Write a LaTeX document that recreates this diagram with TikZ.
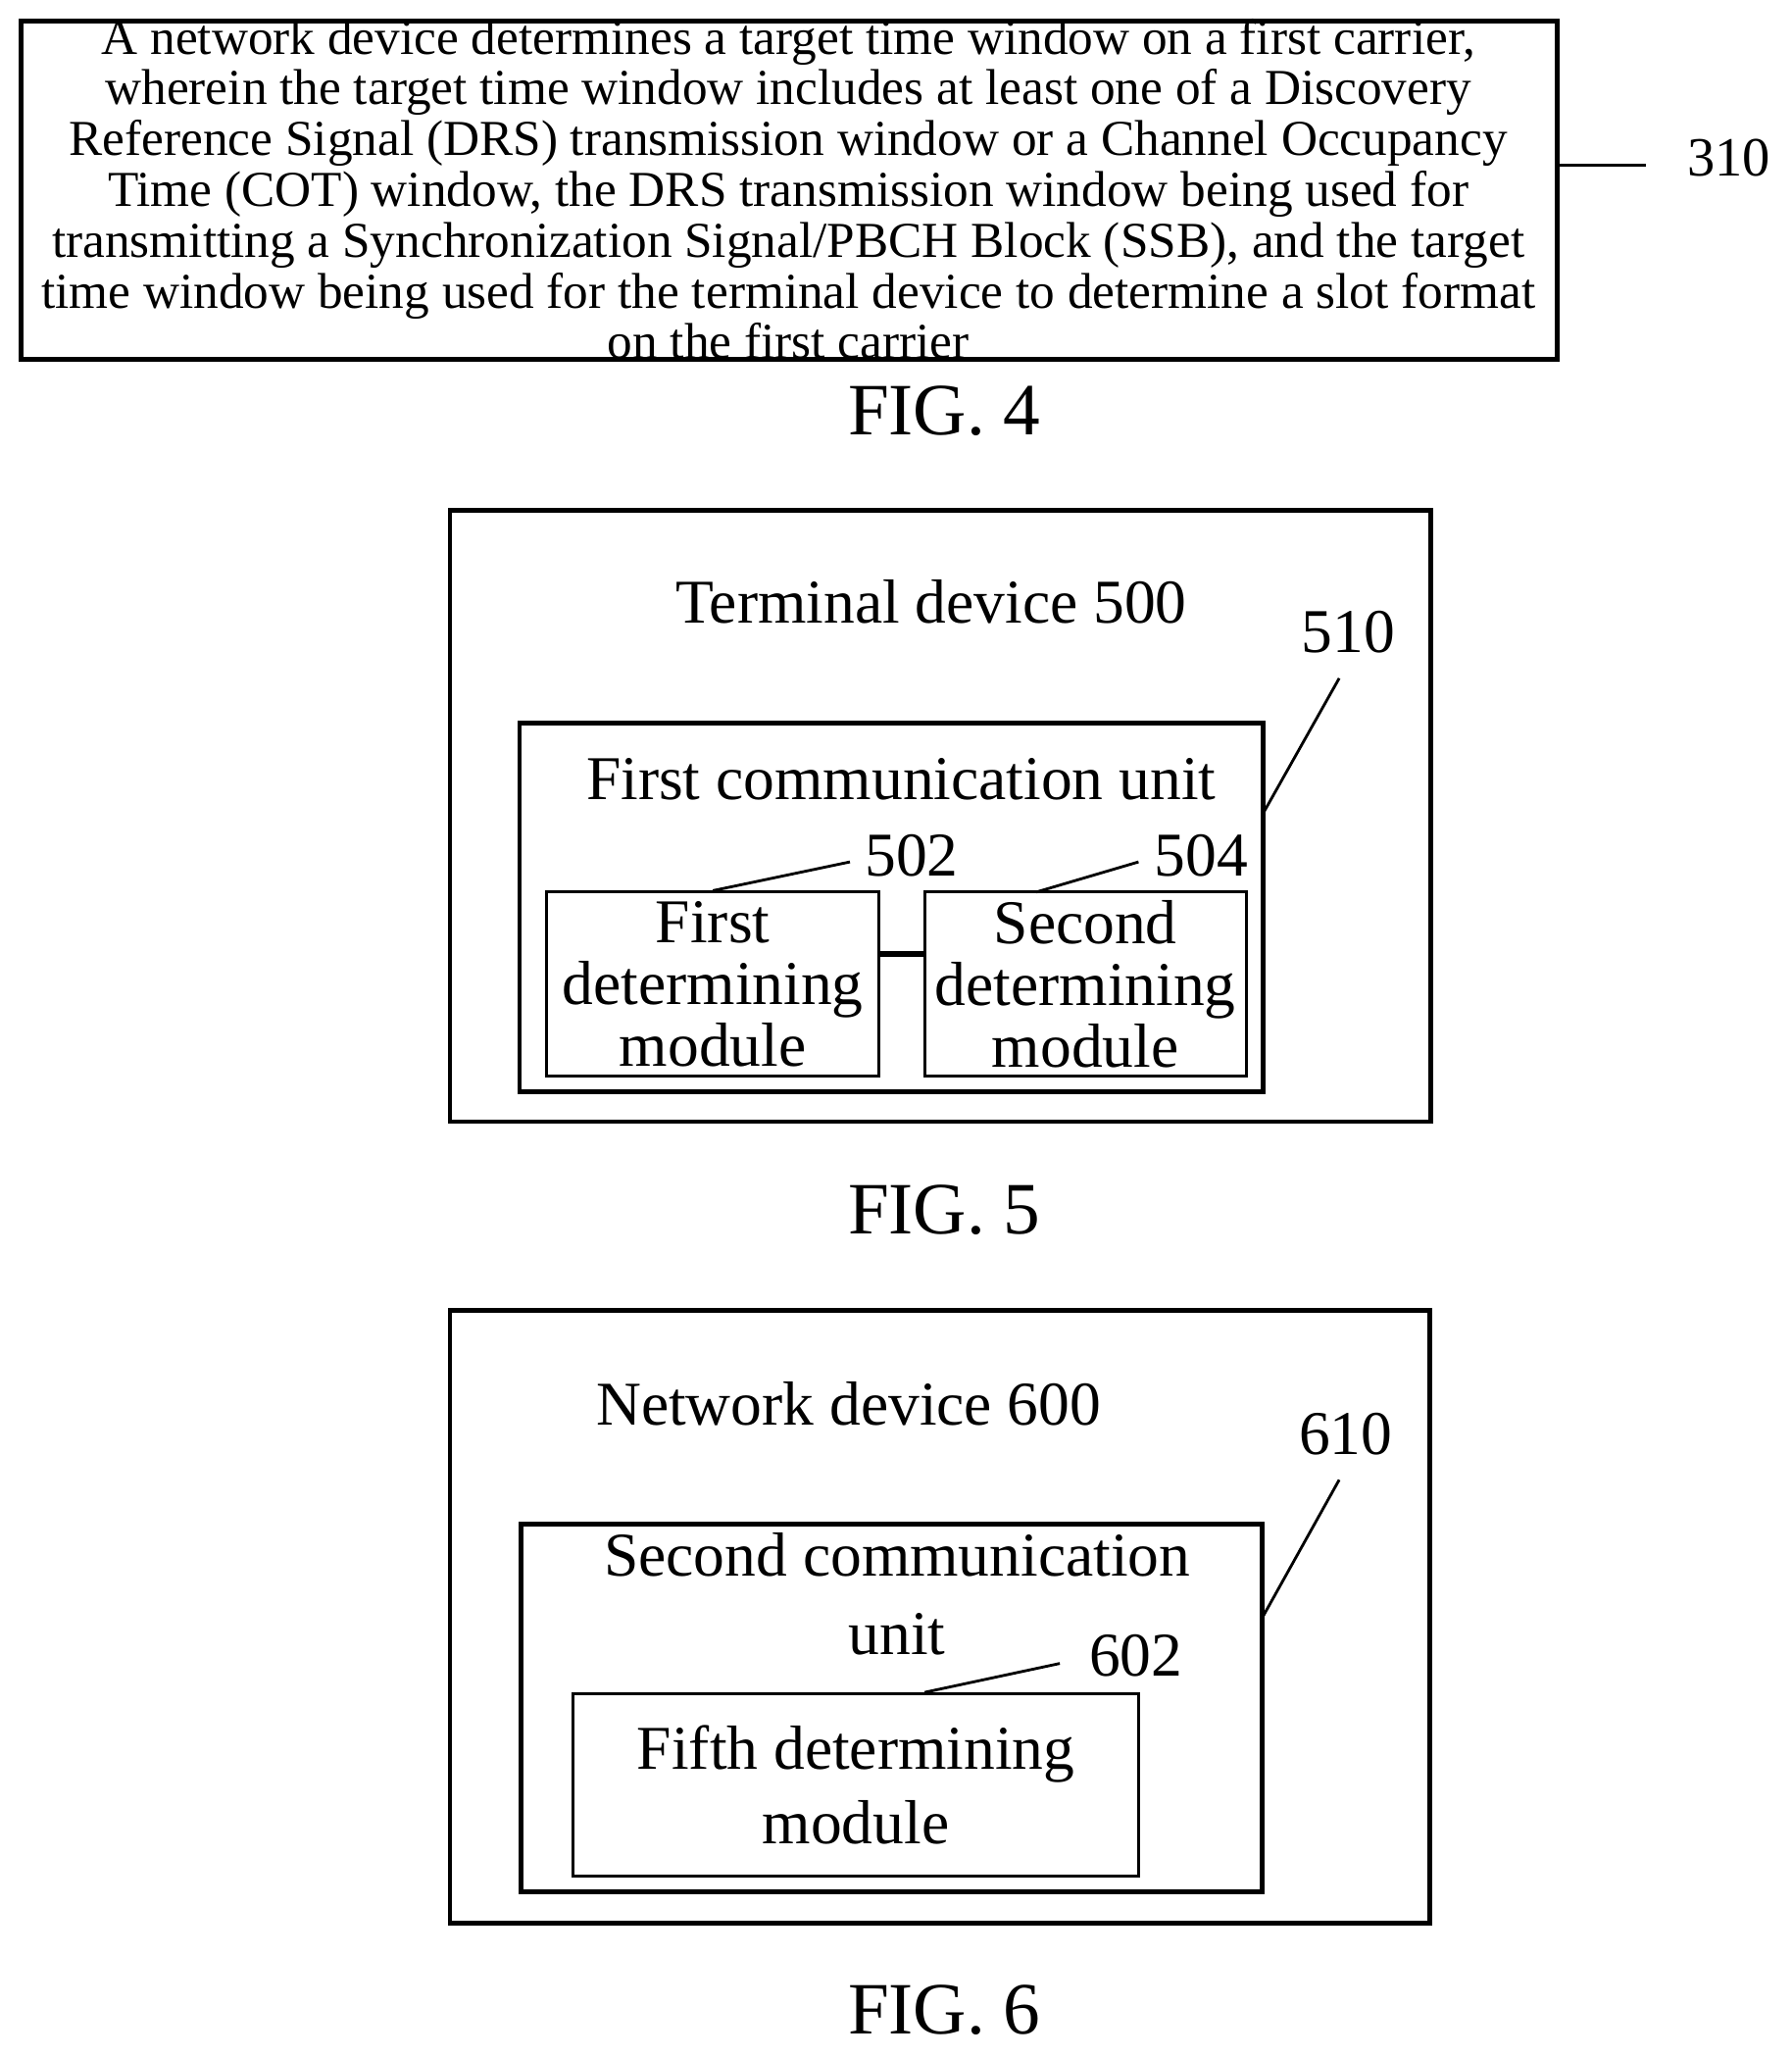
\documentclass[tikz,border=0pt]{standalone}
\usepackage{fontspec}
\setmainfont{Liberation Serif}
\begin{document}
\begin{tikzpicture}[x=0.01cm,y=-0.01cm,line width=.6pt,
    box/.style={draw,line width=1pt},
    big/.style={font=\fontsize{13.5}{13.4}\selectfont,align=center,inner sep=0pt},
    fig/.style={font=\fontsize{16}{16}\selectfont,inner sep=0pt}]
  \useasboundingbox (0,0) rectangle (1366,1568);

  % FIG. 4
  \draw[box] (16,16) rectangle (1187,274);
  \node[inner sep=0pt,align=center,font=\fontsize{10.9}{9.6}\selectfont] (step) at (601,144)
    {A network device determines a target time window on a first carrier,\\
     wherein the target time window includes at least one of a Discovery\\
     Reference Signal (DRS) transmission window or a Channel Occupancy\\
     Time (COT) window, the DRS transmission window being used for\\
     transmitting a Synchronization Signal/PBCH Block (SSB), and the target\\
     time window being used for the terminal device to determine a slot format\\
     on the first carrier};
  \coordinate (s0) at (1187,126);
  \coordinate (s1) at (1255,126);
  \draw (s0) -- (s1);
  \node[big,font=\fontsize{12}{12}\selectfont] (l310) at (1318,120) {310};
  \node[fig] (fig4) at (720,313) {FIG. 4};

  % FIG. 5
  \draw[box] (343,389) rectangle (1091,855);
  \node[big] (t500) at (710,459) {Terminal device 500};
  \draw[box] (396,551) rectangle (963,832);
  \node[big] (u510) at (687,594) {First communication unit};
  \node[big,draw,minimum width=2.53cm,minimum height=1.4cm] (m502) at (543.5,750) {First\\determining\\module};
  \node[big,draw,minimum width=2.45cm,minimum height=1.4cm] (m504) at (827.5,750) {Second\\determining\\module};
  \draw[line width=1.2pt] (m502.east |- 0,727) -- (m504.west |- 0,727);
  \node[big] (l510) at (1028,482) {510};
  \node[big] (l502) at (695,652) {502};
  \node[big] (l504) at (916,652) {504};
  \coordinate (c510) at (963,620);
  \draw (c510) -- (1021,517);
  \draw (m502.north) -- (648,657);
  \draw (790,680) -- (868,657);
  \node[fig] (fig5) at (720,922) {FIG. 5};

  % FIG. 6
  \draw[box] (343,999) rectangle (1090,1466);
  \node[big] (t600) at (647,1070) {Network device 600};
  \draw[box] (397,1162) rectangle (962,1442);
  \node[big,font=\fontsize{13.5}{17}\selectfont] (u610) at (684,1215) {Second communication\\unit};
  \node[big,draw,minimum width=4.31cm,minimum height=1.39cm,font=\fontsize{13.5}{16}\selectfont] (m602) at (652.5,1360.5) {Fifth determining\\module};
  \node[big] (l610) at (1026,1093) {610};
  \node[big] (l602) at (866,1262) {602};
  \draw (963,1232) -- (1021,1128);
  \draw (705,1290) -- (808,1268);
  \node[fig] (fig6) at (720,1532) {FIG. 6};
\end{tikzpicture}
\end{document}
